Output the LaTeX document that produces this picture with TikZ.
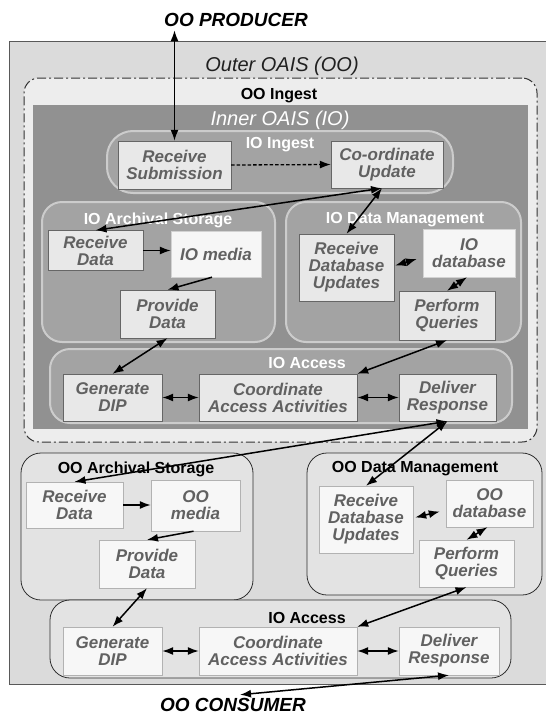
\documentclass[tikz,border=0pt]{standalone}
\usepackage{fontspec}
\setmainfont{Liberation Sans}
\usepackage{xcolor}
\usetikzlibrary{positioning,arrows.meta}

\definecolor{outerbg}{gray}{0.86}
\definecolor{ingestbg}{gray}{0.93}
\definecolor{innerbg}{gray}{0.57}
\definecolor{iogroupfill}{gray}{0.64}
\definecolor{iogroupline}{gray}{0.80}
\definecolor{oogroupfill}{gray}{0.89}
\definecolor{oogroupline}{gray}{0.18}
\definecolor{boxfill}{gray}{0.91}
\definecolor{boxline}{gray}{0.40}
\definecolor{boxtext}{gray}{0.38}

\begin{document}
\begin{tikzpicture}[>={Latex[length=11pt,width=8pt]}, x=1pt, y=-1pt]
    \tikzset{
        proc/.style={draw=boxline, fill=boxfill, inner sep=0pt, align=center, text=boxtext, font=\fontsize{17}{17}\selectfont\bfseries\itshape},
        store/.style={proc, draw=gray!35, fill=gray!7},
        ooproc/.style={proc, draw=gray!60, fill=gray!6},
        iogroup/.style={draw=iogroupline, line width=2pt, fill=iogroupfill, rounded corners=20pt, inner sep=0pt},
        oogroup/.style={draw=oogroupline, line width=0.8pt, fill=oogroupfill, rounded corners=20pt, inner sep=0pt},
        iotitle/.style={text=white, font=\fontsize{16}{18}\selectfont\bfseries},
        ootitle/.style={text=black, font=\fontsize{16}{18}\selectfont\bfseries},
        actor/.style={font=\fontsize{19}{20}\selectfont\bfseries\itshape},
        flow/.style={->, line width=1.5pt},
        twoway/.style={<->, line width=1.5pt},
        dashedflow/.style={->, line width=1.3pt, dash pattern=on 3.5pt off 2pt}
    }
    \useasboundingbox (0,0) rectangle (546,715);

    % outer and inner OAIS
    \node[draw=gray!70!black, fill=outerbg, line width=0.8pt, inner sep=0pt, minimum width=537pt, minimum height=643pt] (outer) at (277.5,362.5) {};
    \node[draw=gray!40!black, fill=ingestbg, line width=1pt, rounded corners=15pt, dash pattern=on 9pt off 3pt on 2pt off 3pt, inner sep=0pt, minimum width=513pt, minimum height=364pt] (ooingest) at (280.5,260) {};
    \node[fill=innerbg, inner sep=0pt, minimum width=495pt, minimum height=324pt] (inner) at (280.5,267) {};

    \node[actor] (producer) at (236,20) {OO PRODUCER};
    \node[actor] (consumer) at (233,705) {OO CONSUMER};
    \node[text=gray!25!black, font=\fontsize{20}{22}\selectfont\itshape] (outertitle) at (282,66) {Outer OAIS (OO)};
    \node[ootitle] (ooingesttitle) at (279,96) {OO Ingest};
    \node[text=white, font=\fontsize{20}{22}\selectfont\itshape] (innertitle) at (280,120) {Inner OAIS (IO)};

    % IO groups
    \node[iogroup, rounded corners=26pt, minimum width=346pt, minimum height=62pt] (ioingest) at (280,162) {};
    \node[iogroup, minimum width=233pt, minimum height=140pt] (ioarch) at (158.5,272) {};
    \node[iogroup, minimum width=235pt, minimum height=140pt] (iodm) at (403.5,272) {};
    \node[iogroup, minimum width=462pt, minimum height=74pt] (ioaccess) at (281,386) {};
    \node[iotitle] at (280,145) {IO Ingest};
    \node[iotitle] at (158,220) {IO Archival Storage};
    \node[iotitle] at (405,220) {IO Data Management};
    \node[iotitle] at (307,363) {IO Access};

    % OO groups
    \node[oogroup, minimum width=232pt, minimum height=147pt] (ooarch) at (137,526.5) {};
    \node[oogroup, minimum width=235pt, minimum height=142pt] (oodm) at (424.5,524) {};
    \node[oogroup, minimum width=461pt, minimum height=78pt] (ooaccess) at (280.5,639) {};
    \node[ootitle] at (136,469) {OO Archival Storage};
    \node[ootitle] at (415,469) {OO Data Management};
    \node[ootitle] at (307,618) {IO Access};

    % IO functions
    \node[proc, minimum width=113pt, minimum height=48pt] (recvsub) at (174.5,165) {Receive\\Submission};
    \node[proc, minimum width=112pt, minimum height=47pt] (coupd) at (387,164.5) {Co-ordinate\\Update};
    \node[proc, minimum width=95pt, minimum height=40pt] (iorecv) at (95.5,250.5) {Receive\\Data};
    \node[store, minimum width=90pt, minimum height=46pt] (iomedia) at (216,254) {IO media};
    \node[proc, minimum width=95pt, minimum height=48pt] (ioprov) at (167.5,314) {Provide\\Data};
    \node[proc, minimum width=95pt, minimum height=67pt] (iordu) at (346.5,267.5) {Receive\\Database\\Updates};
    \node[store, minimum width=92pt, minimum height=48pt] (iodb) at (469,253) {IO\\database};
    \node[proc, minimum width=96pt, minimum height=49pt] (ioperf) at (447,315.5) {Perform\\Queries};
    \node[proc, minimum width=99pt, minimum height=47pt] (iogen) at (112.5,397.5) {Generate\\DIP};
    \node[proc, minimum width=158pt, minimum height=47pt] (iocoord) at (278,397.5) {Coordinate\\Access Activities};
    \node[proc, minimum width=97pt, minimum height=47pt] (iodel) at (447.5,397.5) {Deliver\\Response};

    % OO functions
    \node[ooproc, minimum width=97pt, minimum height=46pt] (oorecv) at (74.5,505) {Receive\\Data};
    \node[ooproc, minimum width=89pt, minimum height=51pt] (oomedia) at (195.5,505.5) {OO\\media};
    \node[ooproc, minimum width=96pt, minimum height=48pt] (ooprov) at (147,564) {Provide\\Data};
    \node[ooproc, minimum width=94pt, minimum height=67pt] (oordu) at (366,519.5) {Receive\\Database\\Updates};
    \node[ooproc, minimum width=87pt, minimum height=47pt] (oodb) at (489.5,503.5) {OO\\database};
    \node[ooproc, minimum width=95pt, minimum height=47pt] (ooperf) at (466.5,563.5) {Perform\\Queries};
    \node[ooproc, minimum width=99pt, minimum height=48pt] (oogen) at (112.5,651) {Generate\\DIP};
    \node[ooproc, minimum width=158pt, minimum height=48pt] (oocoord) at (278,651) {Coordinate\\Access Activities};
    \node[ooproc, minimum width=100pt, minimum height=48pt] (oodel) at (449,651) {Deliver\\Response};

    % connectors
    \draw[twoway] (recvsub.north) -- (recvsub.north |- producer.south);
    \draw[dashedflow] (recvsub.east) -- (coupd.west);
    \draw[twoway] ([xshift=-5pt]coupd.south) -- (iorecv.north);
    \draw[twoway] ([xshift=-5pt]coupd.south) -- (iordu.north);

    \draw[flow] (iorecv.east) -- (iorecv.east -| iomedia.west);
    \draw[flow] ([xshift=-4pt]iomedia.south) -- (ioprov.north);
    \draw[twoway] ([xshift=1pt,yshift=2pt]iordu.east) -- ([xshift=-6pt,yshift=-6pt]iodb.west);
    \draw[twoway] ([xshift=-2pt]iodb.south) -- (ioperf.north);
    \draw[twoway] (ioprov.south) -- (iogen.north);
    \draw[twoway] (ioperf.south) -- (iocoord.north east);
    \draw[twoway] (iogen.east) -- (iocoord.west);
    \draw[twoway] (iocoord.east) -- (iodel.west);

    \draw[twoway] (iodel.south) -- (oorecv.north);
    \draw[twoway] (iodel.south) -- (oordu.north);
    \draw[flow] (oorecv.east) -- (oorecv.east -| oomedia.west);
    \draw[flow] ([xshift=-2pt]oomedia.south) -- (ooprov.north);
    \draw[twoway] ([xshift=2pt,yshift=2pt]oordu.east) -- ([xshift=-6pt,yshift=-8pt]oodb.west);
    \draw[twoway] ([xshift=-2pt]oodb.south) -- (ooperf.north);
    \draw[twoway] (ooprov.south) -- (oogen.north);
    \draw[twoway] (ooperf.south) -- (oocoord.north east);
    \draw[twoway] (oogen.east) -- (oocoord.west);
    \draw[twoway] (oocoord.east) -- (oodel.west);
    \draw[twoway] (oodel.south) -- ([xshift=7pt]consumer.north);
\end{tikzpicture}
\end{document}
